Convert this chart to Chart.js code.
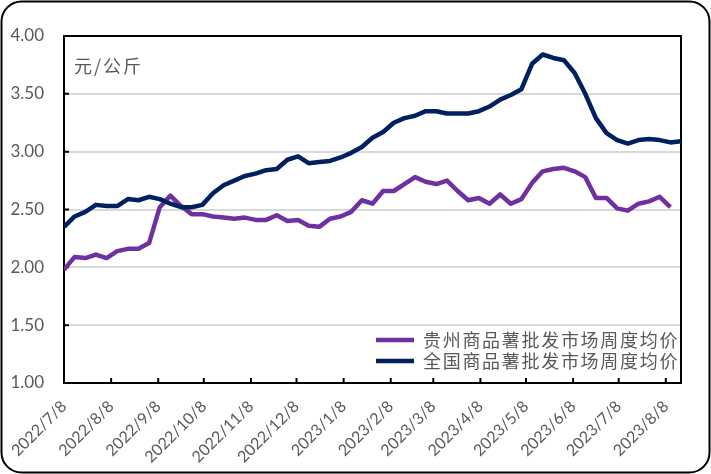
<!DOCTYPE html>
<html><head><meta charset="utf-8">
<script src="https://cdn.jsdelivr.net/npm/chart.js@4.4.0/dist/chart.umd.min.js"></script>
<style>html,body{margin:0;padding:0;background:#fff;overflow:hidden}canvas{display:block}</style>
</head><body>
<canvas id="c" width="711" height="474"></canvas>
<script>
const dates = ['2022/7/8','2022/7/15','2022/7/22','2022/7/29','2022/8/5','2022/8/12','2022/8/19','2022/8/26',
 '2022/9/2','2022/9/9','2022/9/16','2022/9/23','2022/9/30','2022/10/7','2022/10/14','2022/10/21','2022/10/28',
 '2022/11/4','2022/11/11','2022/11/18','2022/11/25','2022/12/2','2022/12/9','2022/12/16','2022/12/23','2022/12/30',
 '2023/1/6','2023/1/13','2023/1/20','2023/1/27','2023/2/3','2023/2/10','2023/2/17','2023/2/24',
 '2023/3/3','2023/3/10','2023/3/17','2023/3/24','2023/3/31','2023/4/7','2023/4/14','2023/4/21','2023/4/28',
 '2023/5/5','2023/5/12','2023/5/19','2023/5/26','2023/6/2','2023/6/9','2023/6/16','2023/6/23','2023/6/30',
 '2023/7/7','2023/7/14','2023/7/21','2023/7/28','2023/8/4','2023/8/11','2023/8/18'];
const guizhou = [1.98,2.09,2.08,2.11,2.08,2.14,2.16,2.16,2.21,2.52,
 2.62,2.53,2.46,2.46,2.44,2.43,2.42,2.43,2.41,2.41,
 2.45,2.40,2.41,2.36,2.35,2.42,2.44,2.48,2.58,2.55,
 2.66,2.66,2.72,2.78,2.74,2.72,2.75,2.66,2.58,2.60,
 2.55,2.63,2.55,2.59,2.73,2.83,2.85,2.86,2.83,2.78,
 2.60,2.60,2.51,2.49,2.55,2.57,2.61,2.52];
const national = [2.35,2.44,2.48,2.54,2.53,2.53,2.59,2.58,2.61,2.59,
 2.55,2.52,2.52,2.54,2.64,2.71,2.75,2.79,2.81,2.84,
 2.85,2.93,2.96,2.90,2.91,2.92,2.95,2.99,3.04,3.12,
 3.17,3.25,3.29,3.31,3.35,3.35,3.33,3.33,3.33,3.35,
 3.39,3.45,3.49,3.54,3.76,3.84,3.81,3.79,3.68,3.50,
 3.29,3.16,3.10,3.07,3.10,3.11,3.10,3.08,3.09];
const monthTicks = ['2022/7/8','2022/8/8','2022/9/8','2022/10/8','2022/11/8','2022/12/8','2023/1/8',
 '2023/2/8','2023/3/8','2023/4/8','2023/5/8','2023/6/8','2023/7/8','2023/8/8'];
const seriesNames = ['贵州商品薯批发市场周度均价','全国商品薯批发市场周度均价'];
const unitLabel = '元/公斤';

function dayOffset(s){
  const p = s.split('/').map(Number);
  const b = dates[0].split('/').map(Number);
  return Math.round((Date.UTC(p[0],p[1]-1,p[2]) - Date.UTC(b[0],b[1]-1,b[2]))/86400000);
}
const tickOffsets = monthTicks.map(dayOffset);
const toPts = arr => arr.map((v,i)=>({x: dayOffset(dates[i]), y: v}));

const deco = {
  id: 'deco',
  beforeDraw(chart){
    const ctx = chart.ctx;
    ctx.save();
    ctx.fillStyle = '#fff';
    ctx.fillRect(0,0,chart.width,chart.height);
    ctx.beginPath();
    ctx.roundRect(1.5,1.5,chart.width-3,chart.height-3,20);
    ctx.lineWidth = 2;
    ctx.strokeStyle = '#000';
    ctx.stroke();
    ctx.restore();
    const lg = chart.legend;
    if (lg && lg.columnSizes && lg.columnSizes.length){
      lg.left = 373; lg.right = chart.width; lg.width = lg.right - lg.left;
      lg.bottom = 331 + lg.columnSizes[0].height;
      lg.top = lg.bottom - lg.height;
      if (!lg._patched){
        const orig = lg.draw.bind(lg);
        lg.draw = function(a){ const c = chart.ctx; const prev = c.letterSpacing; c.letterSpacing = '1.7px'; orig(a); c.letterSpacing = prev || '0px'; };
        lg._patched = true;
      }
    }
  },
  beforeDatasetsDraw(chart){
    const {ctx, chartArea: a, scales} = chart;
    ctx.save();
    ctx.strokeStyle = '#000';
    ctx.lineWidth = 2;
    ctx.beginPath();
    scales.y.ticks.forEach(t => {
      const y = scales.y.getPixelForValue(t.value);
      ctx.moveTo(a.left, y); ctx.lineTo(a.left + 5, y);
    });
    scales.x.ticks.forEach(t => {
      const x = scales.x.getPixelForValue(t.value);
      ctx.moveTo(x, a.bottom); ctx.lineTo(x, a.bottom - 5);
    });
    ctx.stroke();
    ctx.strokeRect(a.left, a.top, a.right - a.left, a.bottom - a.top);
    ctx.fillStyle = '#595959';
    ctx.font = '18px "Noto Sans CJK SC"';
    ctx.textBaseline = 'middle';
    ctx.textAlign = 'left';
    ctx.letterSpacing = '2px';
    ctx.fillText(unitLabel, a.left + 10, 66);
    ctx.restore();
  }
};

new Chart(document.getElementById('c'), {
  type: 'line',
  data: {
    datasets: [
      {label: seriesNames[0], data: toPts(guizhou), borderColor: '#7030A0', backgroundColor: '#7030A0', borderWidth: 4.5, order: 1},
      {label: seriesNames[1], data: toPts(national), borderColor: '#002060', backgroundColor: '#002060', borderWidth: 4.5, order: 0}
    ]
  },
  options: {
    responsive: false,
    animation: false,
    devicePixelRatio: 1,
    layout: {padding: {top: 36, right: 30, left: 0, bottom: 0}},
    elements: {
      point: {radius: 0, hoverRadius: 0},
      line: {tension: 0, borderJoinStyle: 'round', borderCapStyle: 'butt'}
    },
    plugins: {
      tooltip: {enabled: false},
      legend: {
        position: 'chartArea',
        align: 'end',
        labels: {
          usePointStyle: true,
          pointStyle: 'line',
          pointStyleWidth: 38,
          padding: 3,
          color: '#595959',
          font: {family: '"Noto Sans CJK SC"', size: 18},
          sort: (a,b) => a.datasetIndex - b.datasetIndex
        }
      }
    },
    scales: {
      x: {
        type: 'linear',
        min: 0,
        max: dayOffset(dates[dates.length-1]),
        grid: {display: false, drawTicks: false},
        border: {display: false},
        afterBuildTicks: s => { s.ticks = tickOffsets.map(v => ({value: v})); },
        afterFit: s => { s.height = 91; },
        ticks: {
          autoSkip: false,
          minRotation: 45,
          maxRotation: 45,
          padding: 14,
          color: '#595959',
          font: {family: 'Lato', size: 16},
          callback: v => { const i = tickOffsets.indexOf(v); return i >= 0 ? monthTicks[i] : ''; }
        }
      },
      y: {
        min: 1, max: 4,
        grid: {color: '#d9d9d9', lineWidth: 2, drawTicks: false},
        border: {display: false},
        afterFit: s => { s.width = 64; },
        ticks: {
          stepSize: 0.5,
          padding: 20,
          color: '#595959',
          font: {family: 'Lato', size: 17},
          callback: v => Number(v).toFixed(2)
        }
      }
    }
  },
  plugins: [deco]
});
</script>
</body></html>
